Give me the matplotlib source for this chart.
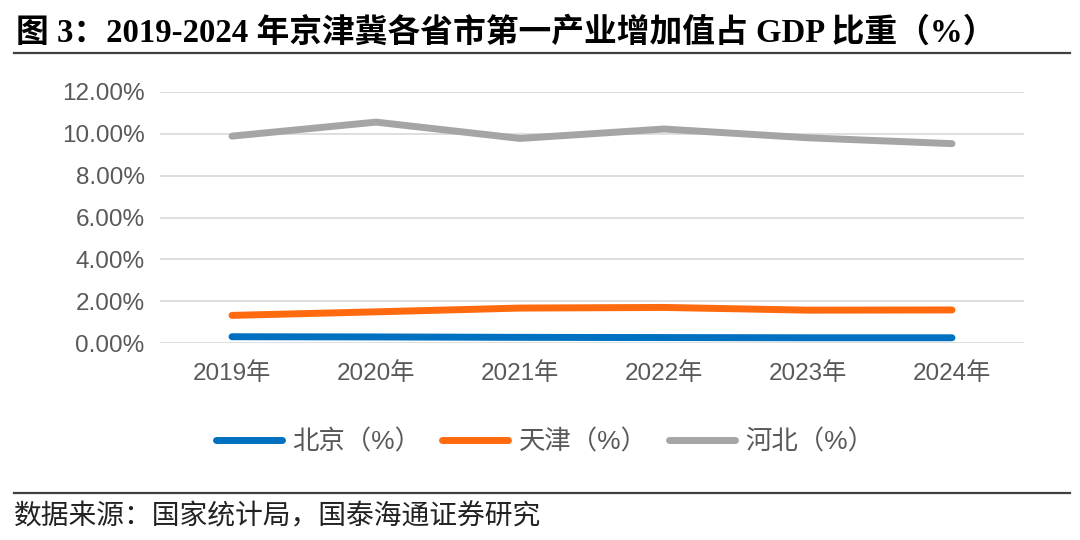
import matplotlib
matplotlib.use("Agg")
import matplotlib.pyplot as plt
from matplotlib.lines import Line2D

years = ["2019年", "2020年", "2021年", "2022年", "2023年", "2024年"]
beijing = [0.30, 0.29, 0.27, 0.26, 0.25, 0.25]
tianjin = [1.32, 1.49, 1.67, 1.70, 1.57, 1.58]
hebei = [9.89, 10.56, 9.78, 10.23, 9.81, 9.53]
series_names = ["北京（%）", "天津（%）", "河北（%）"]
yticks = [0, 2, 4, 6, 8, 10, 12]

colors = ["#0070C0", "#FF6A0E", "#A5A5A5"]
cjk = ["Liberation Sans", "Noto Sans CJK SC", "DejaVu Sans"]
plt.rcParams['font.family'] = cjk

fig = plt.figure(figsize=(10.8, 5.4), dpi=100)
W, H = 1080, 540
ax = fig.add_axes([160 / W, 1 - 343 / H, (1024 - 160) / W, (343 - 92) / H])

x = list(range(len(years)))
for vals, c, name in zip([beijing, tianjin, hebei], colors, series_names):
    ax.plot(x, vals, color=c, lw=5, solid_capstyle='round', label=name)

ax.set_xlim(-0.5, len(years) - 0.5)
ax.set_ylim(0, 12)
ax.set_yticks(yticks)
ax.set_yticklabels([f"{v:.2f}%" for v in yticks], fontsize=17.5, color="#595959")
ax.set_xticks(x)
ax.set_xticklabels(years, fontsize=17.5, color="#595959", family=cjk)
ax.tick_params(length=0, pad=11)
ax.tick_params(axis='x', pad=14)
ax.grid(axis='y', color="#D9D9D9", lw=1.2)
ax.set_axisbelow(True)
for s in ax.spines.values():
    s.set_visible(False)

handles = [Line2D([0], [0], color=c, lw=5, solid_capstyle='round') for c in colors]
fig.legend(handles, series_names, loc='center', bbox_to_anchor=(545 / W, 1 - 442 / H),
           ncol=3, frameon=False, handlelength=2.5, columnspacing=0.8,
           handletextpad=0.4, labelcolor="#595959", prop={'family': cjk, 'size': 19})

# title
fig.text(16 / W, 1 - 33 / H, "图 3：2019-2024 年京津冀各省市第一产业增加值占 GDP 比重（%）",
         fontsize=23.6, fontweight='bold', ha='left', va='center',
         family=["Liberation Serif", "Noto Sans CJK SC"])
fig.add_artist(Line2D([14 / W, 1070 / W], [1 - 53 / H, 1 - 53 / H], color="#404040", lw=1.6))
fig.add_artist(Line2D([14 / W, 1070 / W], [1 - 493 / H, 1 - 493 / H], color="#404040", lw=1.6))
fig.text(14 / W, 1 - 516 / H, "数据来源：国家统计局，国泰海通证券研究", fontsize=20,
         ha='left', va='center', family=["Noto Sans CJK SC"], color="#222222")

fig.savefig("out.png", dpi=100)
